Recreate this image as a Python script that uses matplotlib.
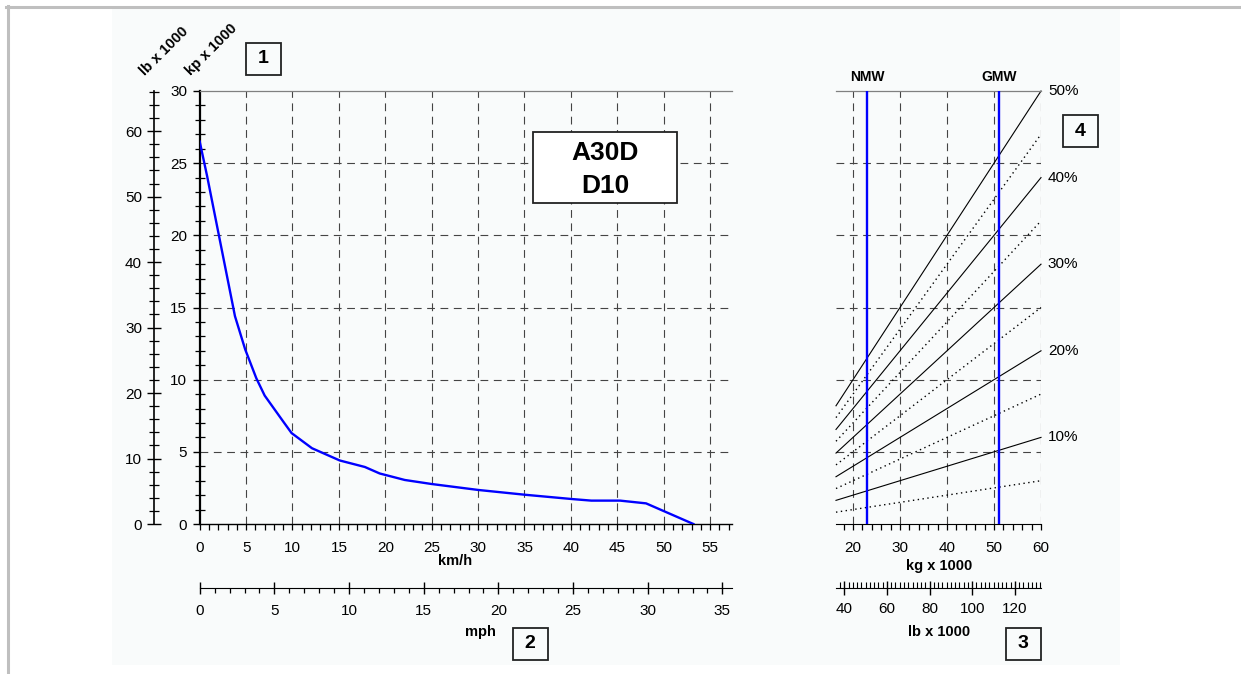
import numpy as np
import matplotlib.pyplot as plt
from matplotlib.patches import Rectangle
from matplotlib.ticker import MultipleLocator, FixedLocator

plt.rcParams['font.family'] = ['Liberation Sans', 'DejaVu Sans']

# rimpull curve: speed (km/h) vs rimpull (kp x 1000)
speed_kmh = [0, 0.8, 3.8, 4.9, 6.1, 7.0, 9.0, 9.9, 12.1, 15.1, 17.8, 19.4,
             22.1, 25.0, 30.0, 35.0, 40.1, 42.2, 45.3, 48.1, 53.2]
rimpull_kp = [26.5, 24.1, 14.4, 12.1, 10.1, 8.9, 7.1, 6.3, 5.25, 4.4, 3.95, 3.5,
              3.05, 2.77, 2.36, 2.03, 1.73, 1.62, 1.62, 1.43, 0]

# grade resistance chart
grade_solid = [10, 20, 30, 40, 50]
grade_dotted = [5, 15, 25, 35, 45]
weight_range = [16.38, 60]          # kg x 1000
nmw_kg = 23.0
gmw_kg = 51.0

# secondary scale ticks
lb_ticks_left = [0, 10, 20, 30, 40, 50, 60]
mph_ticks = [0, 5, 10, 15, 20, 25, 30, 35]
lb_ticks_right = [40, 60, 80, 100, 120]

KP_TO_LB = 2.2046
KMH_TO_MPH = 0.621371

W, H = 1241, 674
fig = plt.figure(figsize=(W / 100, H / 100), dpi=100)

def fx(px):
    return px / W

def fy(py):
    return 1 - py / H

# faint panel background + gray frame
fig.add_artist(Rectangle((fx(112), fy(665)), fx(1120) - fx(112), fy(9) - fy(665),
                         transform=fig.transFigure, fc='#f9fbfb', ec='none', zorder=-5))
fig.add_artist(plt.Line2D([fx(6), 1], [fy(6.5), fy(6.5)], transform=fig.transFigure,
                          color='#bfbfbf', lw=2.2))
fig.add_artist(plt.Line2D([fx(7.5), fx(7.5)], [fy(5.5), 0], transform=fig.transFigure,
                          color='#bfbfbf', lw=2.2))

grid_kw = dict(color='#444444', lw=0.8, ls=(0, (7, 5)), zorder=1)
tick_fs = 11

# ---------------- main rimpull chart ----------------
ax = fig.add_axes([fx(199.7), fy(524), fx(731.7) - fx(199.7), fy(91) - fy(524)])
ax.set_facecolor('none')
ax.set_xlim(0, 57.33)
ax.set_ylim(0, 30)
for v in range(5, 56, 5):
    ax.axvline(v, **grid_kw)
for v in range(5, 26, 5):
    ax.axhline(v, **grid_kw)
ax.plot(speed_kmh, rimpull_kp, color='#0000ff', lw=1.7, zorder=3)

ax.spines['right'].set_visible(False)
ax.spines['top'].set_color('#808080')
ax.spines['top'].set_linewidth(0.9)
ax.spines['left'].set_linewidth(1.6)
ax.spines['bottom'].set_linewidth(1.0)
ax.xaxis.set_major_locator(MultipleLocator(5))
ax.xaxis.set_minor_locator(MultipleLocator(1))
ax.yaxis.set_major_locator(MultipleLocator(5))
ax.yaxis.set_minor_locator(MultipleLocator(1))
ax.tick_params(axis='x', which='both', direction='out', length=4, width=0.9,
               labelsize=tick_fs, pad=8)
ax.tick_params(axis='y', which='major', direction='out', length=5, width=1,
               labelsize=tick_fs, pad=4)
ax.tick_params(axis='y', which='minor', direction='inout', length=7, width=0.9)

# lb axis at the left
lb_ax = ax.secondary_yaxis(-0.085, functions=(lambda k: k * KP_TO_LB, lambda l: l / KP_TO_LB))
lb_ax.yaxis.set_major_locator(FixedLocator(lb_ticks_left))
lb_ax.yaxis.set_minor_locator(MultipleLocator(2))
lb_ax.tick_params(which='major', direction='inout', length=10, width=1,
                  labelsize=tick_fs, pad=4)
lb_ax.tick_params(which='minor', direction='inout', length=7, width=0.9)
lb_ax.spines['left'].set_linewidth(1.2)

# mph axis below
mph_ax = ax.secondary_xaxis(-0.148, functions=(lambda k: k * KMH_TO_MPH, lambda m: m / KMH_TO_MPH))
mph_ax.xaxis.set_major_locator(FixedLocator(mph_ticks))
mph_ax.xaxis.set_minor_locator(MultipleLocator(1))
mph_ax.tick_params(which='major', direction='inout', length=9, width=1,
                   labelsize=tick_fs, pad=7)
mph_ax.tick_params(which='minor', direction='out', length=3.5, width=0.9)

# model box
fig.add_artist(Rectangle((fx(533), fy(202.7)), fx(677) - fx(533), fy(131.7) - fy(202.7),
                         transform=fig.transFigure, fc='white', ec='#222222', lw=1.3, zorder=4))
fig.text(fx(605), fy(153), 'A30D', ha='center', va='center', fontsize=19, weight='bold', zorder=5)
fig.text(fx(605), fy(186), 'D10', ha='center', va='center', fontsize=19, weight='bold', zorder=5)

# ---------------- grade resistance chart ----------------
ax2 = fig.add_axes([fx(836), fy(524), fx(1041) - fx(836), fy(91) - fy(524)])
ax2.set_facecolor('none')
ax2.set_xlim(weight_range[0], weight_range[1])
ax2.set_ylim(0, 30)
for v in range(20, 61, 10):
    ax2.axvline(v, **grid_kw)
for v in range(5, 26, 5):
    ax2.axhline(v, **grid_kw)

w = np.array(weight_range)
for g in grade_solid:
    ax2.plot(w, w * g / 100, color='black', lw=0.8, zorder=2, clip_on=False)
    ax2.annotate(f'{g}%', (60, 60 * g / 100), xytext=(5, 0), textcoords='offset points',
                 ha='left', va='center', fontsize=tick_fs, annotation_clip=False)
for g in grade_dotted:
    ax2.plot(w, w * g / 100, color='black', lw=1.0, ls=(0, (1, 2.5)), zorder=2, clip_on=False)

ax2.axvline(nmw_kg, color='#0000ff', lw=1.7, zorder=3)
ax2.axvline(gmw_kg, color='#0000ff', lw=1.7, zorder=3)
ax2.text(nmw_kg, 30.5, 'NMW', ha='center', va='bottom', fontsize=10, weight='bold')
ax2.text(gmw_kg, 30.5, 'GMW', ha='center', va='bottom', fontsize=10, weight='bold')

for s in ['left', 'right']:
    ax2.spines[s].set_visible(False)
ax2.spines['top'].set_color('#808080')
ax2.spines['top'].set_linewidth(0.9)
ax2.set_yticks([])
ax2.xaxis.set_major_locator(MultipleLocator(10))
ax2.xaxis.set_minor_locator(MultipleLocator(2))
ax2.tick_params(axis='x', which='both', direction='out', length=4, width=0.9,
                labelsize=tick_fs, pad=8)

lb2_ax = ax2.secondary_xaxis(-0.148, functions=(lambda k: k * KP_TO_LB, lambda l: l / KP_TO_LB))
lb2_ax.xaxis.set_major_locator(FixedLocator(lb_ticks_right))
lb2_ax.xaxis.set_minor_locator(MultipleLocator(2))
lb2_ax.tick_params(which='major', direction='inout', length=10, width=1,
                   labelsize=tick_fs, pad=5)
lb2_ax.tick_params(which='minor', direction='in', length=4, width=0.8)

# ---------------- axis labels ----------------
lab = dict(ha='center', va='center', fontsize=10.5, weight='bold')
fig.text(fx(455), fy(561), 'km/h', **lab)
fig.text(fx(480), fy(632), 'mph', **lab)
fig.text(fx(939), fy(566), 'kg x 1000', **lab)
fig.text(fx(939), fy(632), 'lb x 1000', **lab)
fig.text(fx(164), fy(51), 'lb x 1000', rotation=45, **lab)
fig.text(fx(211), fy(50), 'kp x 1000', rotation=45, **lab)

# numbered callout boxes
def callout(cx, cy, label):
    fig.add_artist(Rectangle((fx(cx - 17.5), fy(cy + 16)), 35 / W, 32 / H,
                             transform=fig.transFigure, fc='none', ec='#222222', lw=1.3))
    fig.text(fx(cx), fy(cy), label, ha='center', va='center', fontsize=14, weight='bold')

callout(263.5, 58.5, '1')
callout(530, 644, '2')
callout(1023, 644, '3')
callout(1080, 131, '4')

fig.savefig('out.png', dpi=100)
